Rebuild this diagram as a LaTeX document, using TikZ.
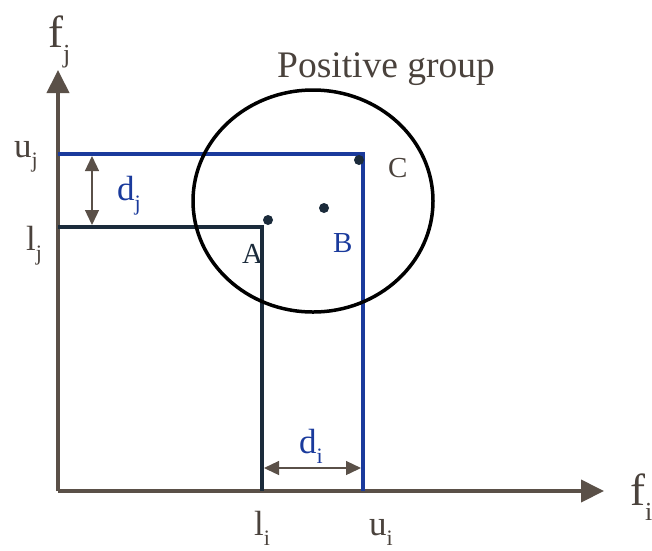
\documentclass[tikz,border=0pt]{standalone}
\usepackage{fontspec}
\setmainfont{Liberation Serif}
\usetikzlibrary{arrows.meta,shapes.geometric}
\definecolor{axisc}{HTML}{5A5048}
\definecolor{labc}{HTML}{4A423C}
\definecolor{bluec}{HTML}{1A3A9C}
\definecolor{navyc}{HTML}{1B2B3B}
\newcommand\lbl[2]{#1\raisebox{-10pt}{\fontsize{22}{22}\selectfont #2}}
\newcommand\flbl[2]{#1\raisebox{-15pt}{\fontsize{26}{26}\selectfont #2}}
\tikzset{
  axisline/.style={draw=axisc, line width=4pt, -{Triangle[length=23pt,width=22pt]}},
  dimline/.style={draw=axisc, line width=1.3pt, {Triangle[length=15pt,width=14pt]}-{Triangle[length=15pt,width=14pt]}},
  txt/.style={inner sep=0pt, anchor=base west, font=\fontsize{35}{36}\selectfont, text=labc},
  ftxt/.style={inner sep=0pt, anchor=base west, font=\fontsize{45}{46}\selectfont, text=labc},
  ptxt/.style={inner sep=0pt, anchor=base west, font=\fontsize{29}{30}\selectfont},
  dotn/.style={circle, fill=navyc, inner sep=0pt, minimum size=10pt},
  grpstyle/.style={ellipse, draw=black, line width=3.5pt, inner sep=0pt, minimum width=240pt, minimum height=222pt},
}
\begin{document}
\begin{tikzpicture}[x=1pt,y=-1pt]
\useasboundingbox (0,0) rectangle (652,550);
% axes
\coordinate (O) at (58,491);
\coordinate (ytip) at (58,70);
\coordinate (xtip) at (604,491);
\draw[axisline] (O) -- (ytip);
\draw[axisline] (O) -- (xtip);
% corner points
\coordinate (uj) at (58,154);
\coordinate (C0) at (363,154);
\coordinate (ui) at (363,491);
\coordinate (lj) at (58,227);
\coordinate (A0) at (262,227);
\coordinate (li) at (262,491);
\draw[navyc, line width=3.5pt] (lj) -- (A0) -- (li);
\draw[bluec, line width=3.5pt] (uj) -- (C0) -- (ui);
% circle
\node[grpstyle] (grp) at (313,201) {};
% dimension arrows
\coordinate (dj1) at (92,156);
\coordinate (dj2) at (92,225);
\draw[dimline] (dj1) -- (dj2);
\coordinate (di1) at (264,468);
\coordinate (di2) at (361,468);
\draw[dimline] (di1) -- (di2);
% dots
\node[dotn] (A) at (268,220) {};
\node[dotn] (B) at (324,208) {};
\node[dotn] (C) at (359,160) {};
% labels
\node[ptxt, text=navyc] (Al) at (242,263) {A};
\node[ptxt, text=bluec] (Bl) at (333,252) {B};
\node[ptxt, text=labc] (Cl) at (388,177) {C};
\node[inner sep=0pt, anchor=base west, font=\fontsize{37.5}{38}\selectfont, text=labc] (pg) at (277,77) {Positive group};
\node[ftxt] (fj) at (48,47) {\flbl{f}{j}};
\node[ftxt] (fi) at (630,505) {\flbl{f}{i}};
\node[txt] (ujl) at (14,157) {\lbl{u}{j}};
\node[txt] (ljl) at (26,250) {\lbl{l}{j}};
\node[txt] (lil) at (254,535) {\lbl{l}{i}};
\node[txt] (uil) at (369,535) {\lbl{u}{i}};
\node[txt, text=bluec] (djl) at (117,200) {\lbl{d}{j}};
\node[txt, text=bluec] (dil) at (299,453) {\lbl{d}{i}};
\end{tikzpicture}
\end{document}
